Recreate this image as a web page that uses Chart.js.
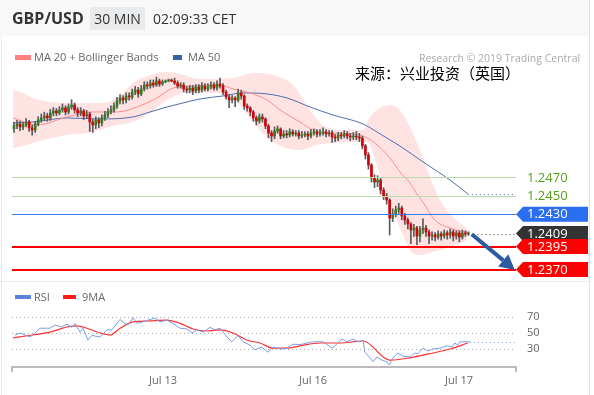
<!DOCTYPE html>
<html>
<head>
<meta charset="utf-8">
<title>GBP/USD 30 MIN</title>
<script src="https://cdn.jsdelivr.net/npm/chart.js@4.4.1/dist/chart.umd.min.js"></script>
<style>
  html, body { margin: 0; padding: 0; background: #fff; }
  body { width: 594px; height: 395px; position: relative; overflow: hidden; font-family: "Open Sans", sans-serif; color: #333; }
  canvas { position: absolute; left: 0; top: 0; }
  .abs { position: absolute; white-space: nowrap; z-index: 5; }
  #header { left: 0; top: 0; width: 589px; height: 36px; background: #f8f8f8; z-index: 0; }
  #pair { left: 12px; top: 6px; font-size: 16px; font-weight: bold; line-height: 24px; }
  #tf { left: 90px; top: 7px; width: 55px; height: 23px; line-height: 23px; text-align: center; background: #e8eaec; font-size: 14px; }
  #clock { left: 153px; top: 7px; line-height: 23px; font-size: 14px; }
  .leg { font-size: 11px; color: #666; line-height: 14px; }
  .sw { position: absolute; z-index: 5; }
  #research { left: 419px; top: 51px; font-size: 10.5px; color: #aaa; line-height: 14px; }
  #source { left: 355px; top: 64px; font-size: 15px; line-height: 18px; color: #000; font-family: "Noto Sans CJK SC", sans-serif; }
  #sep { left: 0; top: 281px; width: 589px; height: 0; border-top: 1px dotted #d8d8d8; z-index: 0; }
  #rborder { left: 589px; top: 0; width: 1px; height: 395px; background: #e2e2e2; z-index: 0; }
  #lborder { left: 1px; top: 36px; width: 1px; height: 359px; background: #ececec; z-index: 0; }
</style>
</head>
<body>
<div class="abs" id="header"></div>
<div class="abs" id="rborder"></div>
<div class="abs" id="lborder"></div>
<div class="abs" id="sep"></div>
<div class="abs" id="pair">GBP/USD</div>
<div class="abs" id="tf">30 MIN</div>
<div class="abs" id="clock">02:09:33 CET</div>

<div class="sw" style="left:15px;top:55px;width:16px;height:5px;background:#ff8080"></div>
<div class="abs leg" style="left:34px;top:50px">MA 20 + Bollinger Bands</div>
<div class="sw" style="left:173px;top:55px;width:9px;height:5px;background:#3a62a8"></div>
<div class="abs leg" style="left:188px;top:50px">MA 50</div>

<div class="abs" id="research">Research © 2019 Trading Central</div>
<div class="abs" id="source">来源：兴业投资（英国）</div>

<div class="sw" style="left:15px;top:295px;width:16px;height:4px;background:#5c80db"></div>
<div class="abs leg" style="left:34px;top:290px">RSI</div>
<div class="sw" style="left:63px;top:295px;width:13px;height:4px;background:#ff1a1a"></div>
<div class="abs leg" style="left:82px;top:290px">9MA</div>

<canvas id="priceChart" width="594" height="395"></canvas>
<canvas id="rsiChart" width="594" height="395"></canvas>

<script>
// GBP/USD 30 min bars, Jul 12 - Jul 17 (x = bar number)
const opens = [
  1.25230,1.25260,1.25282,1.25249,1.25271,1.25303,1.25238,1.25216,1.25282,1.25325,
  1.25347,1.25369,1.25347,1.25401,1.25423,1.25401,1.25434,1.25456,1.25412,1.25466,
  1.25488,1.25434,1.25401,1.25423,1.25369,1.25390,1.25303,1.25271,1.25325,1.25292,
  1.25347,1.25379,1.25412,1.25434,1.25477,1.25532,1.25564,1.25542,1.25586,1.25575,
  1.25629,1.25651,1.25608,1.25662,1.25705,1.25695,1.25727,1.25705,1.25749,1.25716,
  1.25738,1.25749,1.25760,1.25749,1.25727,1.25695,1.25705,1.25662,1.25651,1.25673,
  1.25640,1.25684,1.25651,1.25695,1.25662,1.25684,1.25705,1.25673,1.25716,1.25695,
  1.25629,1.25575,1.25542,1.25564,1.25542,1.25619,1.25586,1.25477,1.25456,1.25412,
  1.25347,1.25314,1.25358,1.25336,1.25260,1.25184,1.25151,1.25205,1.25227,1.25151,
  1.25173,1.25162,1.25195,1.25173,1.25184,1.25151,1.25162,1.25173,1.25151,1.25184,
  1.25195,1.25173,1.25184,1.25195,1.25173,1.25184,1.25140,1.25129,1.25162,1.25151,
  1.25173,1.25151,1.25140,1.25151,1.25140,1.25129,1.25042,1.24945,1.24836,1.24695,
  1.24651,1.24673,1.24564,1.24499,1.24455,1.24260,1.24303,1.24347,1.24368,1.24282,
  1.24238,1.24195,1.24129,1.24151,1.24064,1.24129,1.24151,1.24108,1.24064,1.24075,
  1.24053,1.24086,1.24064,1.24097,1.24075,1.24108,1.24064,1.24097,1.24053,1.24097,
  1.24086
];
const highs = [
  1.25300,1.25320,1.25310,1.25300,1.25340,1.25320,1.25270,1.25310,1.25360,1.25390,
  1.25410,1.25400,1.25440,1.25460,1.25450,1.25470,1.25500,1.25480,1.25500,1.25545,
  1.25510,1.25460,1.25460,1.25440,1.25430,1.25410,1.25330,1.25360,1.25350,1.25380,
  1.25420,1.25450,1.25480,1.25510,1.25570,1.25600,1.25590,1.25620,1.25620,1.25660,
  1.25690,1.25680,1.25700,1.25740,1.25740,1.25760,1.25760,1.25790,1.25770,1.25760,
  1.25760,1.25770,1.25770,1.25780,1.25750,1.25730,1.25730,1.25690,1.25700,1.25700,
  1.25710,1.25710,1.25730,1.25720,1.25720,1.25740,1.25730,1.25750,1.25780,1.25720,
  1.25650,1.25600,1.25590,1.25580,1.25660,1.25650,1.25600,1.25500,1.25470,1.25430,
  1.25370,1.25390,1.25390,1.25350,1.25280,1.25210,1.25250,1.25260,1.25240,1.25210,
  1.25210,1.25230,1.25220,1.25210,1.25210,1.25200,1.25200,1.25200,1.25220,1.25230,
  1.25220,1.25220,1.25240,1.25220,1.25210,1.25210,1.25170,1.25190,1.25190,1.25210,
  1.25200,1.25180,1.25190,1.25200,1.25180,1.25150,1.25060,1.24970,1.24850,1.24730,
  1.24720,1.24690,1.24590,1.24530,1.24470,1.24360,1.24390,1.24420,1.24390,1.24310,
  1.24260,1.24210,1.24190,1.24170,1.24170,1.24250,1.24180,1.24130,1.24110,1.24100,
  1.24120,1.24110,1.24130,1.24120,1.24140,1.24130,1.24120,1.24120,1.24130,1.24120,
  1.24110
];
const lows = [
  1.25190,1.25230,1.25210,1.25220,1.25250,1.25200,1.25160,1.25190,1.25260,1.25300,
  1.25320,1.25310,1.25320,1.25370,1.25370,1.25380,1.25410,1.25380,1.25390,1.25440,
  1.25400,1.25360,1.25370,1.25330,1.25340,1.25200,1.25190,1.25230,1.25240,1.25260,
  1.25320,1.25350,1.25390,1.25410,1.25450,1.25500,1.25500,1.25510,1.25540,1.25550,
  1.25600,1.25570,1.25590,1.25640,1.25660,1.25670,1.25680,1.25690,1.25690,1.25700,
  1.25730,1.25740,1.25740,1.25710,1.25670,1.25670,1.25630,1.25620,1.25620,1.25600,
  1.25620,1.25620,1.25630,1.25640,1.25640,1.25660,1.25650,1.25650,1.25670,1.25600,
  1.25550,1.25460,1.25510,1.25470,1.25520,1.25550,1.25440,1.25420,1.25370,1.25310,
  1.25270,1.25290,1.25300,1.25230,1.25130,1.25090,1.25120,1.25180,1.25120,1.25130,
  1.25130,1.25140,1.25150,1.25150,1.25120,1.25130,1.25140,1.25110,1.25130,1.25160,
  1.25140,1.25150,1.25160,1.25140,1.25150,1.25080,1.25090,1.25100,1.25120,1.25130,
  1.25120,1.25100,1.25110,1.25110,1.25090,1.25010,1.24900,1.24790,1.24650,1.24590,
  1.24600,1.24520,1.24460,1.24410,1.24075,1.24220,1.24270,1.24310,1.24240,1.24190,
  1.24140,1.23980,1.24060,1.23970,1.24000,1.24090,1.24060,1.23980,1.24020,1.24010,
  1.24030,1.24020,1.24040,1.24030,1.24040,1.24010,1.24030,1.24000,1.24030,1.24060,
  1.24070
];
const closes = [
  1.25260,1.25282,1.25249,1.25271,1.25303,1.25238,1.25216,1.25282,1.25325,1.25347,
  1.25369,1.25347,1.25401,1.25423,1.25401,1.25434,1.25456,1.25412,1.25466,1.25488,
  1.25434,1.25401,1.25423,1.25369,1.25390,1.25303,1.25271,1.25325,1.25292,1.25347,
  1.25379,1.25412,1.25434,1.25477,1.25532,1.25564,1.25542,1.25586,1.25575,1.25629,
  1.25651,1.25608,1.25662,1.25705,1.25695,1.25727,1.25705,1.25749,1.25716,1.25738,
  1.25749,1.25760,1.25749,1.25727,1.25695,1.25705,1.25662,1.25651,1.25673,1.25640,
  1.25684,1.25651,1.25695,1.25662,1.25684,1.25705,1.25673,1.25716,1.25695,1.25629,
  1.25575,1.25542,1.25564,1.25542,1.25619,1.25586,1.25477,1.25456,1.25412,1.25347,
  1.25314,1.25358,1.25336,1.25260,1.25184,1.25151,1.25205,1.25227,1.25151,1.25173,
  1.25162,1.25195,1.25173,1.25184,1.25151,1.25162,1.25173,1.25151,1.25184,1.25195,
  1.25173,1.25184,1.25195,1.25173,1.25184,1.25140,1.25129,1.25162,1.25151,1.25173,
  1.25151,1.25140,1.25151,1.25140,1.25129,1.25042,1.24945,1.24836,1.24695,1.24651,
  1.24673,1.24564,1.24499,1.24455,1.24260,1.24303,1.24347,1.24368,1.24282,1.24238,
  1.24195,1.24129,1.24151,1.24064,1.24129,1.24151,1.24108,1.24064,1.24075,1.24053,
  1.24086,1.24064,1.24097,1.24075,1.24108,1.24064,1.24097,1.24053,1.24097,1.24086,
  1.24090
];

// indicators at points along the bars
const ma20X = [-0.3, 7.6, 17.5, 26.1, 34, 40.6, 47.2, 52.5, 59.1, 68, 72.3, 77.9, 83.5, 88.8, 94.4, 98.7, 105.3, 114.2, 116.5, 119.1, 124.1, 127.4, 130.7, 133, 135.6, 138.3, 140.6, 143.9, 147.2, 149.8];
const ma20Y = [1.25347, 1.25271, 1.25358, 1.25412, 1.25412, 1.25466, 1.25564, 1.25673, 1.25695, 1.25705, 1.25662, 1.25619, 1.25542, 1.25412, 1.25303, 1.25216, 1.25184, 1.25162, 1.25129, 1.25075, 1.24912, 1.24760, 1.24640, 1.24521, 1.24401, 1.24260, 1.24195, 1.24151, 1.24118, 1.24108];

const ma50X = [-0.3, 6.3, 17.5, 28.4, 39.3, 44.9, 50.5, 55.8, 61.4, 69, 75.6, 83.5, 90.1, 97.7, 105.3, 115.2, 119.8, 124.1, 127.4, 135, 143.9, 149.8];
const ma50Y = [1.25292, 1.25303, 1.25347, 1.25336, 1.25358, 1.25412, 1.25466, 1.25510, 1.25553, 1.25586, 1.25619, 1.25608, 1.25564, 1.25466, 1.25379, 1.25282, 1.25195, 1.25108, 1.25042, 1.24869, 1.24673, 1.24521];

const bbUpX = [-0.3, 3, 6.3, 11.9, 20.8, 28.4, 34, 39.3, 44.9, 50.5, 55.8, 61.4, 72.3, 78.9, 85.5, 92.1, 97.7, 102, 109.9, 115.2, 117.5, 119.8, 124.1, 127.4, 130.7, 134, 137.3, 140.6, 144.9, 149.5];
const bbUpY = [1.25651, 1.25619, 1.25564, 1.25521, 1.25510, 1.25510, 1.25564, 1.25727, 1.25814, 1.25847, 1.25814, 1.25771, 1.25782, 1.25836, 1.25814, 1.25705, 1.25434, 1.25271, 1.25216, 1.25216, 1.25358, 1.25434, 1.25488, 1.25434, 1.25249, 1.24999, 1.24705, 1.24455, 1.24271, 1.24151];

const bbLoX = [-0.3, 4.3, 9.6, 17.5, 24.1, 28.4, 34, 39.3, 44.9, 50.5, 57.1, 68, 72.3, 77.9, 83.5, 88.8, 94.4, 100, 105.3, 111.9, 116.5, 120.8, 125.1, 128.4, 130.7, 134, 138.3, 143.9, 149.8];
const bbLoY = [1.25021, 1.25053, 1.25108, 1.25162, 1.25184, 1.25216, 1.25271, 1.25303, 1.25401, 1.25542, 1.25619, 1.25619, 1.25575, 1.25347, 1.25140, 1.25032, 1.24999, 1.25053, 1.25075, 1.25086, 1.25086, 1.24727, 1.24347, 1.24075, 1.23912, 1.23858, 1.23890, 1.23945, 1.24021];

const rsiX = [0.3, 2, 5.3, 6.9, 8.6, 11.9, 13.5, 15.8, 17.5, 19.1, 20.1, 21.8, 22.8, 24.4, 25.7, 28.4, 30.7, 32.3, 35, 36.6, 37.6, 39.3, 40.6, 42.6, 44.9, 46.5, 48.2, 50.5, 52.5, 54.8, 57.1, 58.7, 60.4, 62.4, 64.7, 66.3, 68, 70.3, 71.9, 73.9, 75.6, 77.9, 79.5, 81.8, 83.8, 85.5, 87.8, 90.1, 92.1, 94.4, 98.7, 102, 105, 106.6, 108.3, 109.9, 111.9, 113.5, 115.2, 115.8, 117.5, 118.5, 119.8, 121.5, 123.1, 123.8, 125.1, 126.7, 128.4, 130.7, 132.3, 133.3, 135, 136.6, 138.3, 140.6, 142.9, 144.6, 145.5, 146.5, 147.2, 149.5, 150.5];
const rsiY = [47.5, 50, 45, 50, 56, 56, 60, 57.5, 61, 57, 62, 51, 56, 41, 47, 45, 54, 54, 67, 62, 60, 69, 62, 64, 67, 68.5, 64, 66, 62, 56, 55, 50, 54, 51, 57, 54, 56, 45, 39, 47, 39, 35, 29, 32.5, 26, 32.5, 30, 31, 36, 35.5, 39, 39, 31, 36, 42.5, 39, 42.5, 39, 41, 26, 19, 14, 20, 16, 14, 10, 19, 25, 21, 20, 25, 24, 31, 27.5, 30, 31, 34, 32.5, 37.5, 35, 39, 39, 39];

const rsiMaX = [-0.3, 6.3, 11.9, 17.5, 20.8, 24.1, 28.4, 31.7, 35, 39.3, 43.9, 50.5, 54.8, 59.1, 63.7, 68, 72.3, 76.9, 81.2, 85.5, 90.1, 94.4, 101, 107.6, 115.2, 124.1, 130.7, 138.3, 143.9, 149.8];
const rsiMaY = [44, 47.5, 51, 57.5, 59, 56, 50, 47.5, 56, 64, 65, 66, 62, 55, 52.5, 54, 50, 41, 37.5, 31, 31, 34, 37.5, 37.5, 40, 16, 19, 25, 30, 37.5];

const levelPrices = [1.2470, 1.2450, 1.2430, 1.2395, 1.2370];
const dayTicks = [49.2, 98.7, 146.9];
const dayLabels = ['Jul 13', 'Jul 16', 'Jul 17'];
const rsiTicks = [30, 50, 70];
const arrowFrom = [151.1, 1.24084];
const arrowTo = [165.3, 1.23695];

const xMin = -0.66, xMax = 165.7;
const priceMin = 1.23586, priceMax = 1.25955;

Chart.defaults.font.family = '"Open Sans", sans-serif';

const levelStyle = [
  { line: '#b9dca2', width: 1, box: null, text: '#56a01c' },
  { line: '#b9dca2', width: 1, box: null, text: '#56a01c' },
  { line: '#3b7bf0', width: 1, box: '#2a6ef2', text: '#fff' },
  { line: '#ff0000', width: 2, box: '#ff0000', text: '#fff' },
  { line: '#ff0000', width: 2, box: '#ff0000', text: '#fff' }
];

function pts(xs, ys) {
  return xs.map((x, i) => ({ x: x, y: ys[i] }));
}

function dotted(ctx, x0, x1, y, color) {
  ctx.save();
  ctx.strokeStyle = color;
  ctx.lineWidth = 1;
  ctx.setLineDash([1, 3]);
  ctx.beginPath();
  ctx.moveTo(x0, Math.round(y) + 0.5);
  ctx.lineTo(x1, Math.round(y) + 0.5);
  ctx.stroke();
  ctx.restore();
}

function tag(ctx, tipX, cy, fill, txt, color) {
  if (fill) {
    ctx.fillStyle = fill;
    ctx.beginPath();
    ctx.moveTo(tipX, cy);
    ctx.lineTo(tipX + 7, cy - 7.5);
    ctx.lineTo(tipX + 72, cy - 7.5);
    ctx.lineTo(tipX + 72, cy + 7.5);
    ctx.lineTo(tipX + 7, cy + 7.5);
    ctx.closePath();
    ctx.fill();
  }
  ctx.fillStyle = color;
  ctx.font = '13px "Open Sans", sans-serif';
  ctx.textBaseline = 'middle';
  ctx.textAlign = 'left';
  ctx.fillText(txt, tipX + 11, cy + 0.5);
}

const priceOverlay = {
  id: 'priceOverlay',
  afterDatasetsDraw(chart) {
    const ctx = chart.ctx, area = chart.chartArea;
    const x = chart.scales.x, y = chart.scales.y;
    ctx.save();
    levelPrices.forEach((p, k) => {
      const st = levelStyle[k];
      let py = y.getPixelForValue(p);
      py = st.width === 1 ? Math.round(py) + 0.5 : Math.round(py);
      ctx.strokeStyle = st.line;
      ctx.lineWidth = st.width;
      ctx.beginPath();
      ctx.moveTo(area.left, py);
      ctx.lineTo(area.right, py);
      ctx.stroke();
    });

    const last = closes.length - 1;
    dotted(ctx, x.getPixelForValue(ma50X[ma50X.length - 1]), area.right,
      y.getPixelForValue(ma50Y[ma50Y.length - 1]), '#4b6fb0');
    dotted(ctx, x.getPixelForValue(last) + 5, area.right, y.getPixelForValue(closes[last]), '#555');

    // right side price tags
    levelPrices.forEach((p, k) => {
      if (k === 3) {
        tag(ctx, area.right, y.getPixelForValue(closes[last]), '#333', closes[last].toFixed(4), '#fff');
      }
      const st = levelStyle[k];
      tag(ctx, area.right, y.getPixelForValue(p), st.box, p.toFixed(4), st.text);
    });

    // forecast arrow
    const x0 = x.getPixelForValue(arrowFrom[0]), y0 = y.getPixelForValue(arrowFrom[1]);
    const x1 = x.getPixelForValue(arrowTo[0]), y1 = y.getPixelForValue(arrowTo[1]);
    const a = Math.atan2(y1 - y0, x1 - x0);
    const head = 15, half = 8;
    const bx = x1 - head * Math.cos(a), by = y1 - head * Math.sin(a);
    ctx.strokeStyle = '#2c5c9f';
    ctx.fillStyle = '#2c5c9f';
    ctx.lineWidth = 4;
    ctx.beginPath();
    ctx.moveTo(x0, y0);
    ctx.lineTo(bx, by);
    ctx.stroke();
    ctx.beginPath();
    ctx.moveTo(x1, y1);
    ctx.lineTo(bx + half * Math.sin(a), by - half * Math.cos(a));
    ctx.lineTo(bx - half * Math.sin(a), by + half * Math.cos(a));
    ctx.closePath();
    ctx.fill();
    ctx.restore();
  }
};

const rsiOverlay = {
  id: 'rsiOverlay',
  afterDatasetsDraw(chart) {
    const ctx = chart.ctx, area = chart.chartArea;
    const x = chart.scales.x, y = chart.scales.y;
    dotted(ctx, x.getPixelForValue(rsiX[rsiX.length - 1]), area.right,
      y.getPixelForValue(rsiY[rsiY.length - 1]), '#7f9be6');
  },
  afterDraw(chart) {
    const ctx = chart.ctx, area = chart.chartArea;
    ctx.save();
    ctx.strokeStyle = '#bbb';
    ctx.lineWidth = 2;
    ctx.beginPath();
    ctx.moveTo(area.left, area.bottom - 1);
    ctx.lineTo(area.left, area.bottom + 5);
    ctx.moveTo(area.right, area.bottom - 1);
    ctx.lineTo(area.right, area.bottom + 5);
    ctx.stroke();
    ctx.restore();
  }
};

const bodyData = closes.map((c, i) => ({ x: i, y: [opens[i], c] }));
const wickData = closes.map((c, i) => ({ x: i, y: [lows[i], highs[i]] }));

new Chart(document.getElementById('priceChart'), {
  type: 'bar',
  data: {
    datasets: [
      {
        label: 'body',
        data: bodyData,
        backgroundColor: ctx => closes[ctx.dataIndex] >= opens[ctx.dataIndex] ? '#2f7d1f' : '#d4000a',
        barThickness: 2,
        minBarLength: 1,
        grouped: false,
        order: 0
      },
      {
        label: 'wick',
        data: wickData,
        backgroundColor: '#5a5a5a',
        barThickness: 1,
        grouped: false,
        order: 1
      },
      {
        type: 'line',
        label: 'MA 20',
        data: pts(ma20X, ma20Y),
        borderColor: '#ff8c8c',
        borderWidth: 1,
        pointRadius: 0,
        cubicInterpolationMode: 'monotone',
        order: 2
      },
      {
        type: 'line',
        label: 'MA 50',
        data: pts(ma50X, ma50Y),
        borderColor: '#4b6fb0',
        borderWidth: 1,
        pointRadius: 0,
        cubicInterpolationMode: 'monotone',
        order: 2
      },
      {
        type: 'line',
        label: 'BB upper',
        data: pts(bbUpX, bbUpY),
        borderColor: 'rgba(0,0,0,0)',
        backgroundColor: 'rgba(255,0,0,0.11)',
        fill: '+1',
        pointRadius: 0,
        cubicInterpolationMode: 'monotone',
        order: 3
      },
      {
        type: 'line',
        label: 'BB lower',
        data: pts(bbLoX, bbLoY),
        borderColor: 'rgba(0,0,0,0)',
        fill: false,
        pointRadius: 0,
        cubicInterpolationMode: 'monotone',
        order: 3
      }
    ]
  },
  options: {
    responsive: false,
    animation: false,
    layout: { padding: { left: 12, right: 78, top: 62, bottom: 115 } },
    plugins: { legend: { display: false }, tooltip: { enabled: false } },
    scales: {
      x: { type: 'linear', min: xMin, max: xMax, offset: false, display: false },
      y: { min: priceMin, max: priceMax, display: false }
    }
  },
  plugins: [priceOverlay]
});

new Chart(document.getElementById('rsiChart'), {
  type: 'line',
  data: {
    datasets: [
      {
        label: 'RSI',
        data: pts(rsiX, rsiY),
        borderColor: '#7f9be6',
        borderWidth: 1,
        pointRadius: 0
      },
      {
        label: '9MA',
        data: pts(rsiMaX, rsiMaY),
        borderColor: '#ff3030',
        borderWidth: 1.2,
        pointRadius: 0,
        cubicInterpolationMode: 'monotone'
      }
    ]
  },
  options: {
    responsive: false,
    animation: false,
    layout: { padding: { left: 12, right: 0, top: 301, bottom: 0 } },
    plugins: { legend: { display: false }, tooltip: { enabled: false } },
    scales: {
      x: {
        type: 'linear', min: xMin, max: xMax, offset: false,
        afterBuildTicks: s => { s.ticks = dayTicks.map(v => ({ value: v })); },
        afterFit: s => { s.height = 28; },
        ticks: { callback: (v, i) => dayLabels[i], autoSkip: false, maxRotation: 0, color: '#666', font: { size: 11 }, padding: 7 },
        grid: { drawOnChartArea: false, drawTicks: false },
        border: { color: '#bbb', width: 2 }
      },
      y: {
        position: 'right', min: 7.5, max: 90,
        afterBuildTicks: s => { s.ticks = rsiTicks.map(v => ({ value: v })); },
        afterFit: s => { s.width = 78; },
        ticks: { color: '#666', font: { size: 11 }, padding: 11 },
        grid: { color: '#aaa', drawTicks: false },
        border: { display: false, dash: [1, 3] }
      }
    }
  },
  plugins: [rsiOverlay]
});
</script>
</body>
</html>
